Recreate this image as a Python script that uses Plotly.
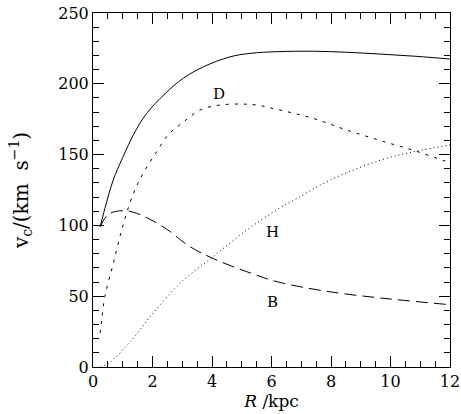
import plotly.graph_objects as go

# Total rotation curve
R_tot = [0.24, 0.4, 0.68, 1.0, 1.41, 1.8, 2.42, 3.04, 3.71, 4.6, 5.28, 6.2, 7.4, 8.5, 9.65, 10.8, 12.0]
v_tot = [99, 112, 132, 148, 166, 179, 193, 204, 212, 219, 221.5, 222.7, 223, 222.3, 221, 219.5, 217.5]

# Disk
R_D = [0.24, 0.29, 0.4, 0.68, 1.02, 1.36, 1.69, 2.14, 2.53, 3.04, 3.6, 4.27, 4.94, 5.5, 6.17, 7.4, 8.52, 9.65, 10.77, 11.83, 12.0]
v_D = [24, 33, 50, 73, 101, 122.6, 137, 152, 164, 173, 181.5, 185, 185.7, 185, 182, 175.6, 167.4, 160, 153, 145.5, 144.5]

# Halo
R_H = [0.24, 0.52, 1.3, 1.92, 2.92, 4.04, 5.17, 6.17, 6.85, 7.97, 9.65, 10.77, 11.78, 12.0]
v_H = [0, 2.5, 19, 35.5, 59, 78, 96.7, 111, 119, 132, 146, 152, 156, 157]

# Bulge
R_B = [0.24, 0.4, 0.57, 1.02, 1.47, 2.36, 3.26, 4.04, 5.17, 6.23, 8.0, 10.0, 12.0]
v_B = [99, 105, 108.5, 110.4, 108.5, 99, 85, 76.6, 67.3, 60, 53, 48, 44]

labels = ["D", "H", "B"]
label_R = [4.24, 6.05, 6.05]
label_v = [193, 95, 46]

FONT = "DejaVu Serif"

fig = go.Figure()
fig.add_trace(go.Scatter(x=R_tot, y=v_tot, mode="lines", line=dict(color="black", width=1), line_shape="spline"))
fig.add_trace(go.Scatter(x=R_D, y=v_D, mode="lines", line=dict(color="black", width=1, dash="3px,6px"), line_shape="spline"))
fig.add_trace(go.Scatter(x=R_H, y=v_H, mode="lines", line=dict(color="black", width=1, dash="1px,3px"), line_shape="spline"))
fig.add_trace(go.Scatter(x=R_B, y=v_B, mode="lines", line=dict(color="black", width=1, dash="12px,6px"), line_shape="spline"))

for t, x, y in zip(labels, label_R, label_v):
    fig.add_annotation(x=x, y=y, text=t, showarrow=False, font=dict(family=FONT, size=15, color="black"))

axis_common = dict(
    showline=True, linecolor="black", linewidth=1, mirror="allticks",
    ticks="inside", ticklen=11, tickcolor="black", tickwidth=1,
    showgrid=False, zeroline=False, automargin=False,
    tickfont=dict(family=FONT, size=16, color="black"),
)

fig.update_xaxes(range=[0, 12], dtick=2, tick0=0,
                 minor=dict(ticks="inside", ticklen=6, dtick=0.5, tickcolor="black", showgrid=False),
                 title=dict(text="<i>R</i> /kpc", font=dict(family=FONT, size=17, color="black"), standoff=0),
                 **axis_common)
fig.update_yaxes(range=[0, 250], dtick=50, tick0=0,
                 minor=dict(ticks="inside", ticklen=6, dtick=10, tickcolor="black", showgrid=False),
                 title=dict(text="v<sub>c</sub>/(km\u00a0\u00a0s<sup>−1</sup>)", font=dict(family=FONT, size=20, color="black"), standoff=24),
                 **axis_common)

fig.update_layout(
    width=461, height=414,
    margin=dict(l=93, r=11, t=13, b=47, autoexpand=False),
    plot_bgcolor="white", paper_bgcolor="white",
    showlegend=False,
)

fig.write_html("out.html", config={"displayModeBar": False},
               post_script="document.body.style.margin='0px';document.body.style.overflow='hidden';")
